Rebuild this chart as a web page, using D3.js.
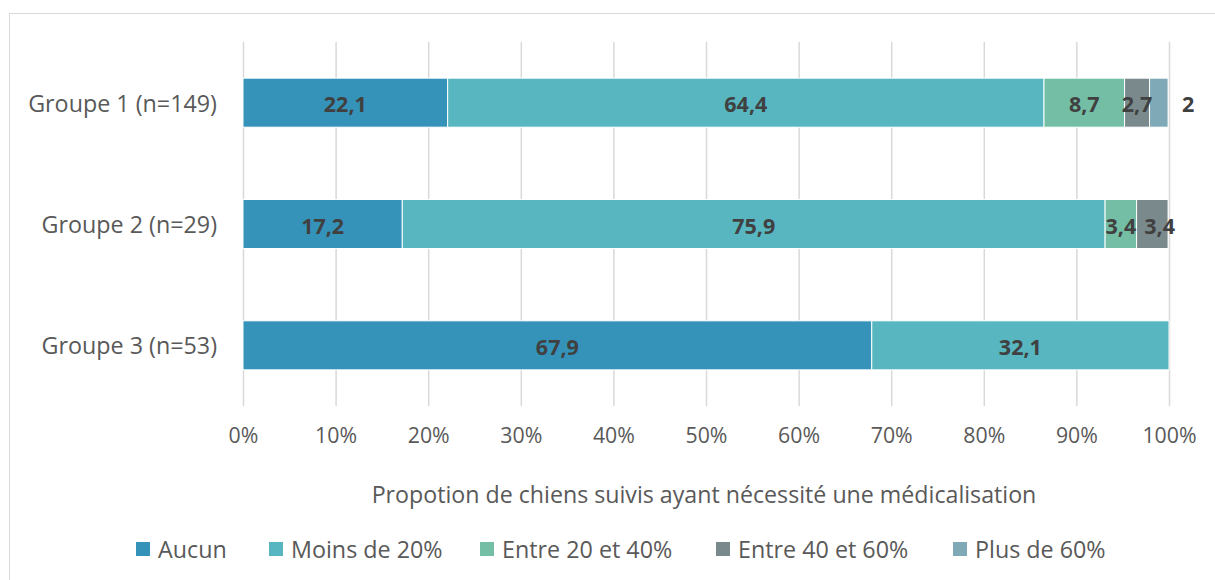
<!DOCTYPE html>
<html><head><meta charset="utf-8">
<script src="https://cdn.jsdelivr.net/npm/d3@7"></script>
<style>
body{margin:0;background:#fff;}
svg{display:block;font-family:"Open Sans", sans-serif;}
</style></head>
<body>
<svg id="c" width="1215" height="580"></svg>
<script>
const groups = ["Groupe 1 (n=149)", "Groupe 2 (n=29)", "Groupe 3 (n=53)"];
const seriesNames = ["Aucun", "Moins de 20%", "Entre 20 et 40%", "Entre 40 et 60%", "Plus de 60%"];
const aucun = [22.1, 17.2, 67.9];
const moins20 = [64.4, 75.9, 32.1];
const entre20_40 = [8.7, 3.4, 0];
const entre40_60 = [2.7, 3.4, 0];
const plus60 = [2, 0, 0];
const seriesColors = ["#3593BA", "#57B6C0", "#73BEA5", "#7A8A8C", "#7FA9B6"];
const tickValues = [0,10,20,30,40,50,60,70,80,90,100];
const axisTitle = "Propotion de chiens suivis ayant nécessité une médicalisation";

const svg = d3.select("#c");
svg.append("rect").attr("x",9.5).attr("y",13.5).attr("width",1220).attr("height",600)
  .attr("fill","none").attr("stroke","#d9d9d9").attr("stroke-width",1);

const x = d3.scaleLinear().domain([0,100]).range([243,1169]);
const y = d3.scaleBand().domain(groups).range([42,406]).paddingInner(0.596).paddingOuter(0.298);

const seriesVals = [aucun, moins20, entre20_40, entre40_60, plus60];
const rows = groups.map((g,i)=>{const o={group:g}; seriesNames.forEach((s,k)=>o[s]=seriesVals[k][i]); return o;});
const stacked = d3.stack().keys(seriesNames)(rows);

// grid
svg.append("g").selectAll("line").data(tickValues).join("line")
  .attr("x1",d=>x(d)+0.5).attr("x2",d=>x(d)+0.5).attr("y1",42).attr("y2",406)
  .attr("stroke","#d9d9d9").attr("stroke-width",1.5);

// bars
const layer = svg.append("g").selectAll("g").data(stacked).join("g")
  .attr("fill",(d,i)=>seriesColors[i]);
layer.selectAll("rect").data(d=>d.map(v=>({v, key:d.key}))).join("rect")
  .filter(d=>d.v[1]-d.v[0]>0)
  .attr("x",d=>x(d.v[0])).attr("width",d=>x(d.v[1])-x(d.v[0]))
  .attr("y",d=>y(d.v.data.group)).attr("height",y.bandwidth())
  .attr("stroke","#fff").attr("stroke-width",1);

// labels
const fmt = v => String(v).replace(".", ",");
groups.forEach((g,gi)=>{
  let prevRight = -Infinity;
  stacked.forEach((s)=>{
    const v = s[gi];
    const val = v[1]-v[0];
    if(val<=0) return;
    const rounded = Math.round(val*10)/10;
    let cx = (x(v[0])+x(v[1]))/2;
    if(val<2.5) cx = x(v[1]) + 20;
    const t = svg.append("text").attr("y",y(g)+y.bandwidth()/2+1)
      .attr("text-anchor","middle").attr("dominant-baseline","central")
      .attr("font-size",21.5).attr("font-weight","bold").attr("fill","#404040")
      .text(fmt(rounded));
    const w = t.node().getComputedTextLength();
    if(cx - w/2 < prevRight + 8) cx = prevRight + 8 + w/2;
    t.attr("x",cx);
    prevRight = cx + w/2;
  });
});

// category axis labels
svg.append("g").selectAll("text").data(groups).join("text")
  .attr("x",217).attr("y",d=>y(d)+y.bandwidth()/2)
  .attr("text-anchor","end").attr("dominant-baseline","central")
  .attr("font-size",23.3).attr("fill","#595959").text(d=>d);

// x axis via d3
const xAxis = d3.axisBottom(x).tickValues(tickValues).tickFormat(d=>d+"%").tickSize(0).tickPadding(0);
const ax = svg.append("g").attr("transform","translate(0,428)").call(xAxis);
ax.select(".domain").remove();
ax.selectAll("text").attr("font-size",21.3).attr("fill","#595959").attr("font-family","'Open Sans', sans-serif");

svg.append("text").attr("x",704).attr("y",494).attr("text-anchor","middle").attr("dominant-baseline","central")
  .attr("font-size",23.2).attr("fill","#595959").text(axisTitle);

// legend
const legendX = [136, 269, 480, 716, 953];
const lg = svg.append("g").selectAll("g").data(seriesNames).join("g")
  .attr("transform",(d,i)=>`translate(${legendX[i]},549)`);
lg.append("rect").attr("x",0).attr("y",-7).attr("width",14).attr("height",14).attr("fill",(d,i)=>seriesColors[i]);
lg.append("text").attr("x",22).attr("y",0).attr("dominant-baseline","central")
  .attr("font-size",23.3).attr("fill","#595959").text(d=>d);
</script>
</body></html>
